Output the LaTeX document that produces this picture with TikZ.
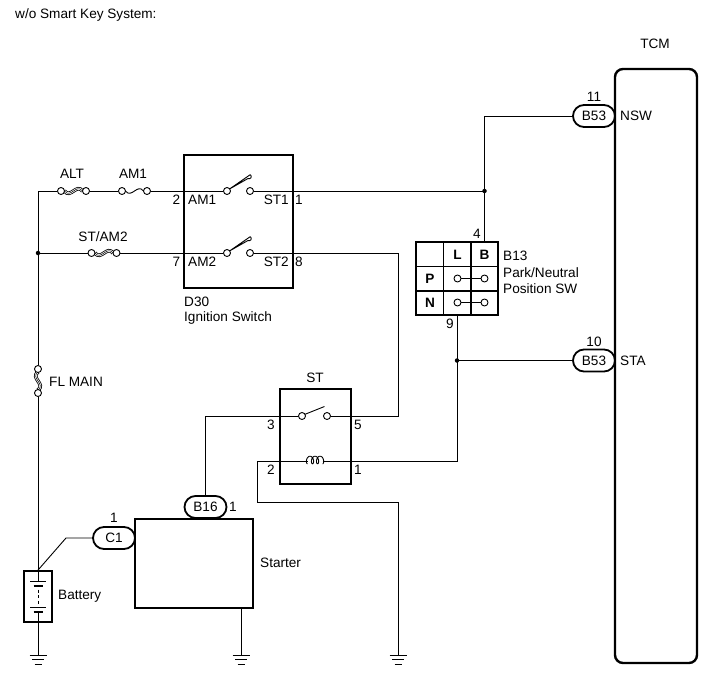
\documentclass[tikz,border=0pt]{standalone}
\usepackage{fontspec}
\setmainfont{Liberation Sans}
\usetikzlibrary{shapes.misc}
\tikzstyle{frame} = [rectangle, draw, line width=1.8pt, inner sep=0]
\tikzstyle{line} = [draw, line width=0.9pt]
\tikzstyle{grid} = [draw, line width=1.5pt]
\tikzstyle{plug} = [rounded rectangle, draw, line width=1.8pt,
        minimum width=42pt, minimum height=22pt, inner sep=0]
\tikzstyle{term} = [circle, draw, fill=white, line width=0.9pt,
        minimum size=7pt, inner sep=0]
\tikzstyle{dot} = [circle, fill, minimum size=4.5pt, inner sep=0]
\tikzstyle{txt} = [inner sep=0]
\tikzstyle{bold} = [inner sep=0, font=\fontsize{13.6}{16}\selectfont\bfseries]
\tikzset{
  fuse/.pic={
    \draw[line width=0.9pt] (-9,0) .. controls (-3,8) and (3,-8) .. (9,0);
    \node[term] (-in) at (-12.5,0) {};
    \node[term] (-out) at (12.5,0) {};
  },
  link/.pic={
    \draw[line width=3.6pt] (-9,0) .. controls (-3,8) and (3,-8) .. (9,0);
    \draw[white, line width=2pt] (-9,0) .. controls (-3,8) and (3,-8) .. (9,0);
    \draw[line width=0.5pt] (-9,0) .. controls (-3,8) and (3,-8) .. (9,0);
    \node[term] (-in) at (-12.5,0) {};
    \node[term] (-out) at (12.5,0) {};
  },
  vlink/.pic={
    \draw[line width=3.6pt] (0,-9) .. controls (-8,-3) and (8,3) .. (0,9);
    \draw[white, line width=2pt] (0,-9) .. controls (-8,-3) and (8,3) .. (0,9);
    \draw[line width=0.5pt] (0,-9) .. controls (-8,-3) and (8,3) .. (0,9);
    \node[term] (-in) at (0,-12) {};
    \node[term] (-out) at (0,12) {};
  },
  ignsw/.pic={
    \draw[line width=0.9pt, line join=round] (-9,-2) -- (9.5,-12.5)
        arc (120:-60:2.2) -- cycle;
    \node[term] (-l) at (-11.5,0) {};
    \node[term] (-r) at (11.5,0) {};
  },
  relsw/.pic={
    \draw[line width=0.9pt] (-10,-1.5) -- (10,-9.5);
    \node[term] (-l) at (-12.5,0) {};
    \node[term] (-r) at (12.5,0) {};
  },
  gnd/.pic={
    \draw[line width=0.9pt] (-8.5,0) -- (8.5,0) (-6,4.5) -- (6,4.5)
        (-3.5,9) -- (3.5,9);
  }
}

\begin{document}
\begin{tikzpicture}[x=1pt, y=-1pt, font=\fontsize{13.6}{16}\selectfont]
    \useasboundingbox (0,0) rectangle (713,681);
    \node [txt, anchor=west] (title) at (15,15) {w/o Smart Key System:};

    \node [frame, rounded corners=8pt, line width=2.4pt,
        minimum width=82pt, minimum height=594pt] (TCM) at (656,366) {};
    \node [txt] (tcmlbl) at (655,44) {TCM};
    \node [plug] (nswplug) at (594,116) {B53};
    \node [txt] (p11) at (594,97) {11};
    \node [txt, anchor=west] (nsw) at (620,116) {NSW};
    \node [plug] (staplug) at (594,360.5) {B53};
    \node [txt] (p10) at (594,342) {10};
    \node [txt, anchor=west] (sta) at (620,360.5) {STA};

    \node [frame, minimum width=109pt, minimum height=133pt] (D30) at (238.5,221.5) {};
    \pic (swam1) at (238.5,191) {ignsw};
    \pic (swam2) at (238.5,253) {ignsw};
    \node [txt] (d2) at (176.5,200) {2};
    \node [txt, anchor=west] (dam1) at (188,200) {AM1};
    \node [txt, anchor=east] (dst1) at (289,200) {ST1};
    \node [txt] (d1) at (299,200) {1};
    \node [txt] (d7) at (176.5,262) {7};
    \node [txt, anchor=west] (dam2) at (188,262) {AM2};
    \node [txt, anchor=east] (dst2) at (289,262) {ST2};
    \node [txt] (d8) at (299,262) {8};
    \node [txt, anchor=west] (d30lbl) at (184,302) {D30};
    \node [txt, anchor=west] (ignlbl) at (184,318) {Ignition Switch};

    \pic (alt) at (73.5,191) {link};
    \pic (amone) at (134.5,191) {fuse};
    \pic (stam) at (104,253) {link};
    \pic (flmain) at (38,381) {vlink};
    \node [txt] (altlbl) at (72,174) {ALT};
    \node [txt] (amonelbl) at (133,174) {AM1};
    \node [txt] (stamlbl) at (103,237) {ST/AM2};
    \node [txt, anchor=west] (fllbl) at (49,381.5) {FL MAIN};

    \node [frame, minimum width=28pt, minimum height=51pt] (batt) at (38,596.5) {};
    \node [txt, anchor=west] (battlbl) at (58,596) {Battery};
    \draw [line width=0.9pt] (batt.north) -- (38,581) (30,581) -- (46,581)
        (30,607) -- (46,607) (38,612) -- (batt.south);
    \draw [line width=2.4pt] (33.5,586) -- (42.5,586) (33.5,612) -- (42.5,612);
    \draw [line width=0.9pt, dash pattern=on 3pt off 2.5pt] (38,589.5) -- (38,605);

    \node [frame, minimum width=118pt, minimum height=89pt] (starter) at (194,563.5) {};
    \node [txt, anchor=west] (startlbl) at (260,563) {Starter};
    \node [plug] (cone) at (114,538) {C1};
    \node [txt] (cone1) at (114,518) {1};
    \node [plug] (bsixteen) at (205.5,507) {B16};
    \node [txt] (bsixteen1) at (233,507) {1};

    \node [frame, minimum width=71pt, minimum height=95pt] (strelay) at (315.5,436.5) {};
    \node [txt] (stlbl) at (315,378) {ST};
    \pic (stsw) at (314.5,416) {relsw};
    \node [txt] (r3) at (271,425) {3};
    \node [txt] (r5) at (358,425) {5};
    \node [txt] (r2) at (271,470) {2};
    \node [txt] (r1) at (358,470) {1};
    \coordinate (coilL) at (307.5,461);
    \coordinate (coilR) at (322.5,461);
    \draw [line width=0.9pt] plot [domain=0:6*pi, samples=150, variable=\t]
        ({307.5 + 0.8*\t - 2.2*sin(\t r)}, {460 + 3.8*cos(\t r)});

    \draw [grid] (416,242) rectangle (498,315)
        (443.5,242) -- (443.5,315) (471,242) -- (471,315)
        (416,266.5) -- (498,266.5) (416,291) -- (498,291);
    \node [bold] (colL) at (457.5,254.5) {L};
    \node [bold] (colB) at (484.5,254.5) {B};
    \node [bold] (rowP) at (430,279) {P};
    \node [bold] (rowN) at (430,303) {N};
    \path [line] (457.5,278.5) -- (484.5,278.5) (457.5,302.5) -- (484.5,302.5);
    \node [term] (pl) at (457.5,278.5) {};
    \node [term] (pb) at (484.5,278.5) {};
    \node [term] (nl) at (457.5,302.5) {};
    \node [term] (nb) at (484.5,302.5) {};
    \node [txt] (b4) at (477,234) {4};
    \node [txt] (b9) at (450,324) {9};
    \node [txt, anchor=west] (b13lbl) at (503,256) {B13};
    \node [txt, anchor=west] (pnlbl) at (503,273) {Park/Neutral};
    \node [txt, anchor=west] (swlbl) at (503,289) {Position SW};

    \coordinate (c1) at (38,191);
    \coordinate (j1) at (38,253);
    \coordinate (j2) at (484.5,191);
    \coordinate (j3) at (457,360.5);
    \coordinate (pin4) at (484.5,242);
    \coordinate (pin9) at (457,315);
    \coordinate (k2) at (257,502);
    \coordinate (k3) at (66,538);
    \coordinate (k5) at (398,416);
    \coordinate (g1) at (38,655);
    \coordinate (g2) at (241,655);
    \coordinate (g3) at (398,655);

    \path [line] (alt-in) -- (c1) -- (flmain-in);
    \path [line] (alt-out) -- (amone-in);
    \path [line] (amone-out) -- (swam1-l);
    \path [line] (j1) -- (stam-in);
    \path [line] (stam-out) -- (swam2-l);
    \path [line] (flmain-out) -- (batt.north);
    \path [line] (batt.south) -- (g1);
    \path [line] (cone.west) -- (k3) -- (batt.north);
    \path [line] (starter.south -| g2) -- (g2);
    \path [line] (swam1-r) -- (j2);
    \path [line] (nswplug.west) -| (pin4);
    \path [line] (swam2-r) -| (k5) -- (stsw-r);
    \path [line] (stsw-l) -| (bsixteen.north);
    \path [line] (coilL) -| (k2) -| (g3);
    \path [line] (coilR) -| (pin9);
    \path [line] (j3) -- (staplug.west);
    \pic at (g1) {gnd};
    \pic at (g2) {gnd};
    \pic at (g3) {gnd};
    \node [dot] (dj1) at (j1) {};
    \node [dot] (dj2) at (j2) {};
    \node [dot] (dj3) at (j3) {};
\end{tikzpicture}
\end{document}
